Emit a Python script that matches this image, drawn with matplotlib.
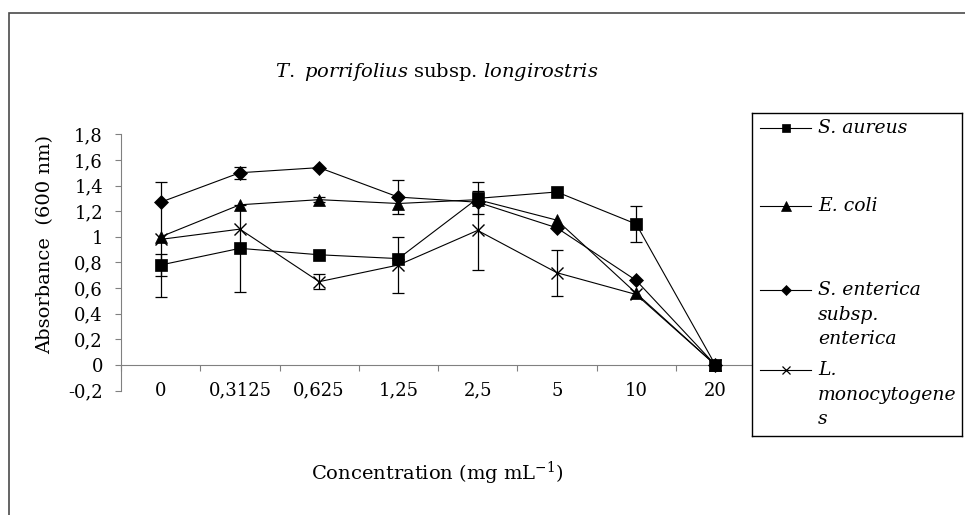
"""Absorbance vs concentration chart, T. porrifolius subsp. longirostris"""

import matplotlib
matplotlib.use('Agg')
import matplotlib.pyplot as plt
import numpy as np
from matplotlib.patches import Rectangle

plt.rcParams['font.family'] = 'DejaVu Serif'
plt.rcParams['mathtext.fontset'] = 'dejavuserif'

# Data
conc_labels = ['0', '0,3125', '0,625', '1,25', '2,5', '5', '10', '20']

s_aureus = [0.78, 0.91, 0.86, 0.83, 1.30, 1.35, 1.10, 0.0]
s_aureus_err = [0.085, 0.34, 0.0, 0.0, 0.125, 0.0, 0.14, 0.0]

e_coli = [1.00, 1.25, 1.29, 1.26, 1.29, 1.13, 0.56, 0.0]
e_coli_err = [0.0, 0.0, 0.02, 0.0, 0.0, 0.0, 0.0, 0.0]

s_enterica = [1.27, 1.50, 1.54, 1.31, 1.27, 1.07, 0.66, 0.0]
s_enterica_err = [0.0, 0.045, 0.0, 0.13, 0.0, 0.0, 0.0, 0.0]

l_mono = [0.98, 1.06, 0.65, 0.78, 1.05, 0.72, 0.55, 0.0]
l_mono_err = [0.45, 0.0, 0.06, 0.22, 0.31, 0.18, 0.0, 0.0]

series_names = ['S. aureus', 'E. coli', 'S. enterica\nsubsp.\nenterica', 'L.\nmonocytogene\ns']
series_values = [s_aureus, e_coli, s_enterica, l_mono]
series_errors = [s_aureus_err, e_coli_err, s_enterica_err, l_mono_err]

# marker, plot size, legend size
styles = [('s', 9, 6), ('^', 9, 7), ('D', 7, 5), ('x', 9, 6)]

W, H = 965, 515
GREY = '#808080'


def fx(px):
    return px / W


def fy(py):
    return 1 - py / H


def y_label(v, pos):
    v = round(v, 1) + 0.0
    return f'{v:g}'.replace('.', ',')


fig = plt.figure(figsize=(W / 100, H / 100), dpi=100)

# chart area border (cut off on the right and bottom)
fig.add_artist(Rectangle((fx(8.5), -0.2), 1.5, fy(13) + 0.2, transform=fig.transFigure,
                         fill=False, edgecolor='#4a4a4a', lw=1.2))

ax = fig.add_axes([fx(121), fy(390.6), fx(755) - fx(121), fy(134.3) - fy(390.6)])
x = np.arange(len(conc_labels))
ax.set_xlim(-0.5, len(conc_labels) - 0.5)
ax.set_ylim(-0.2, 1.8)

for vals, errs, (marker, ms, _) in zip(series_values, series_errors, styles):
    vals = np.asarray(vals)
    errs = np.asarray(errs)
    mew = 1.0 if marker == 'x' else 0.5
    ax.plot(x, vals, color='black', lw=0.8, marker=marker, ms=ms,
            mfc='black', mec='black', mew=mew, zorder=3)
    mask = errs > 0
    ax.errorbar(x[mask], vals[mask], yerr=errs[mask], fmt='none', ecolor='black',
                elinewidth=0.9, capsize=4, capthick=0.9, zorder=2)

for side in ['top', 'right']:
    ax.spines[side].set_visible(False)
ax.spines['left'].set_color(GREY)
ax.spines['bottom'].set_color(GREY)
ax.spines['bottom'].set_position(('data', 0))

ax.set_yticks(np.arange(-0.2, 1.81, 0.2))
ax.yaxis.set_major_formatter(plt.FuncFormatter(y_label))
ax.tick_params(axis='y', direction='out', length=4, color=GREY, labelsize=13, pad=9)
ax.set_xticks(np.arange(-0.5, len(conc_labels), 1))
ax.set_xticklabels([])
ax.tick_params(axis='x', direction='out', length=4.5, color=GREY)

# category labels sit at the bottom of the plot (Excel "low" position)
for i, lab in enumerate(conc_labels):
    ax.text(i, -0.2, lab, ha='center', va='center', fontsize=13)

fig.text(fx(437), fy(72), r'$\mathit{T.}$ $\mathit{porrifolius}$ subsp. $\mathit{longirostris}$',
         ha='center', va='center', fontsize=14)
fig.text(fx(437), fy(473), r'Concentration (mg mL$^{\mathrm{-1}}$)',
         ha='center', va='center', fontsize=14)
fig.text(fx(45), fy(245), 'Absorbance  (600 nm)', rotation=90,
         ha='center', va='center', fontsize=14)

# legend box
lx0, ly0, lx1, ly1 = 752, 113, 962, 436
lax = fig.add_axes([fx(lx0), fy(ly1), fx(lx1) - fx(lx0), fy(ly0) - fy(ly1)], zorder=5)
lax.set_xlim(0, lx1 - lx0)
lax.set_ylim(ly1 - ly0, 0)
lax.set_xticks([])
lax.set_yticks([])
for sp in lax.spines.values():
    sp.set_color('black')
    sp.set_linewidth(1)

entry_y = [15, 93, 177, 257]
line_gap = 24.5
for name, (marker, _, lms), ey in zip(series_names, styles, entry_y):
    lax.plot([8, 59], [ey, ey], color='black', lw=0.8)
    mew = 0.9 if marker == 'x' else 0.5
    lax.plot([33.5], [ey], marker=marker, ms=lms, color='black', mew=mew)
    for k, part in enumerate(name.split('\n')):
        lax.text(66, ey + k * line_gap, part, ha='left', va='center',
                 fontsize=13.5, style='italic')

fig.savefig('out.png', dpi=100)
